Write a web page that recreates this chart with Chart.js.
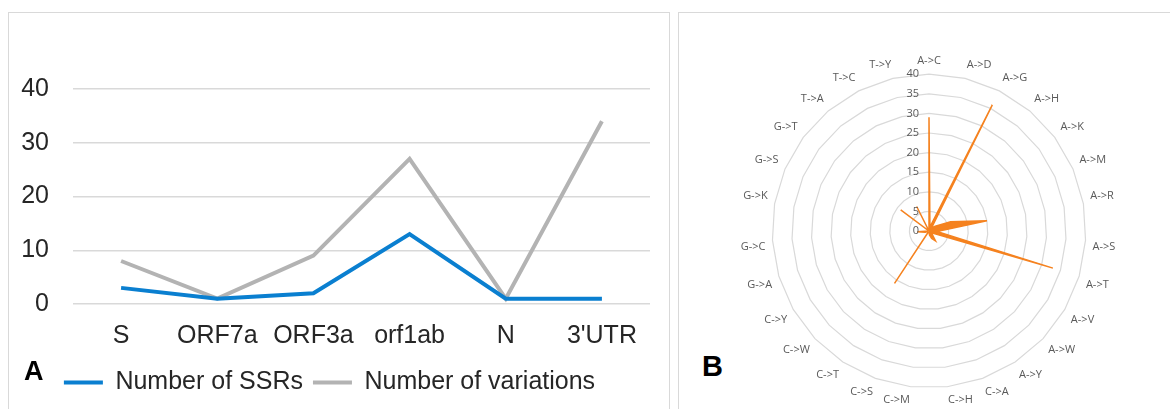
<!DOCTYPE html>
<html>
<head>
<meta charset="utf-8">
<script src="https://cdn.jsdelivr.net/npm/chart.js@4.4.1/dist/chart.umd.min.js"></script>
<style>
  body { margin: 0; background: #fff; width: 1170px; height: 409px; overflow: hidden; position: relative; }
  .panel { position: absolute; border: 1px solid #d9d9d9; background: #fff; }
  #panelA { left: 8px; top: 12px; width: 660px; height: 420px; }
  #panelB { left: 678px; top: 12px; width: 520px; height: 420px; }
  .tag { position: absolute; font-family: "Liberation Sans", Arial, sans-serif; font-weight: bold; color: #000; }
  #wrapA { position: absolute; left: 9px; top: 13px; width: 660px; height: 396px; }
  #wrapB { position: absolute; left: 734px; top: 53px; width: 390px; height: 355px; }
</style>
</head>
<body>
<div class="panel" id="panelA"></div>
<div class="panel" id="panelB"></div>
<div id="wrapA"><canvas id="lineChart"></canvas></div>
<div id="wrapB"><canvas id="radarChart"></canvas></div>
<div class="tag" style="left:24px; top:356px; font-size:27px;">A</div>
<div class="tag" style="left:702px; top:350px; font-size:29px;">B</div>
<script>
// panel A
const genes = ["S", "ORF7a", "ORF3a", "orf1ab", "N", "3'UTR"];
const ssrCounts = [3, 1, 2, 13, 1, 1];
const variationCounts = [8, 1, 9, 27, 1, 34];
const lineTicks = [0, 10, 20, 30, 40];

// panel B
const substitutions = ["A->C", "A->D", "A->G", "A->H", "A->K", "A->M", "A->R", "A->S", "A->T",
  "A->V", "A->W", "A->Y", "C->A", "C->H", "C->M", "C->S", "C->T", "C->W", "C->Y",
  "G->A", "G->C", "G->K", "G->S", "G->T", "T->A", "T->C", "T->Y"];
const substitutionCounts = [29, 1, 36, 1, 2, 6, 15, 2, 33, 1, 1, 3, 2, 1, 0, 0, 16, 0, 0,
  1, 3, 0, 0, 9, 0, 7, 0];
const radarTicks = [0, 5, 10, 15, 20, 25, 30, 35, 40];

const textDark = '#262626';
const gridGray = '#d9d9d9';

new Chart(document.getElementById('lineChart'), {
  type: 'line',
  data: {
    labels: genes,
    datasets: [{
      label: 'Number of SSRs',
      data: ssrCounts,
      borderColor: '#0a7fd0',
      backgroundColor: '#0a7fd0',
      borderWidth: 4,
      pointRadius: 0,
      tension: 0
    }, {
      label: 'Number of variations',
      data: variationCounts,
      borderColor: '#b3b3b3',
      backgroundColor: '#b3b3b3',
      borderWidth: 4,
      pointRadius: 0,
      tension: 0
    }]
  },
  options: {
    responsive: true,
    maintainAspectRatio: false,
    animation: false,
    layout: { padding: { top: 76, right: 19, bottom: 4, left: 0 } },
    plugins: {
      tooltip: { enabled: false },
      legend: {
        position: 'bottom',
        labels: {
          font: { family: 'Liberation Sans', size: 25 },
          color: textDark,
          usePointStyle: true,
          pointStyle: 'line',
          pointStyleWidth: 39,
          padding: 10
        }
      }
    },
    scales: {
      x: {
        offset: true,
        grid: { display: false },
        border: { display: false },
        ticks: { font: { family: 'Liberation Sans', size: 25 }, color: textDark, padding: 9, maxRotation: 0 },
        afterFit: (s) => { s.height = 56; }
      },
      y: {
        min: 0, max: 40,
        afterBuildTicks: (s) => { s.ticks = lineTicks.map(v => ({ value: v })); },
        grid: { color: gridGray, lineWidth: 1.5, drawTicks: false },
        border: { display: false },
        ticks: { font: { family: 'Liberation Sans', size: 25 }, color: textDark, padding: 24 },
        afterFit: (s) => { s.width = 64; }
      }
    }
  }
});

// radar tick labels sit left of the vertical axis, right aligned
const radarTickLabels = {
  id: 'radarTickLabels',
  afterDatasetsDraw(chart) {
    const r = chart.scales.r;
    const ctx = chart.ctx;
    ctx.save();
    ctx.font = '11px "Open Sans"';
    ctx.fillStyle = '#595959';
    ctx.textAlign = 'right';
    ctx.textBaseline = 'middle';
    radarTicks.forEach(v => {
      ctx.fillText(String(v), r.xCenter - 10, r.yCenter - r.getDistanceFromCenterForValue(v));
    });
    ctx.restore();
  }
};

new Chart(document.getElementById('radarChart'), {
  type: 'radar',
  data: {
    labels: substitutions,
    datasets: [{
      label: 'count',
      data: substitutionCounts,
      fill: true,
      backgroundColor: '#f5821f',
      borderColor: '#f5821f',
      borderWidth: 1.5,
      pointRadius: 0
    }]
  },
  plugins: [radarTickLabels],
  options: {
    responsive: true,
    maintainAspectRatio: false,
    animation: false,
    plugins: { legend: { display: false }, tooltip: { enabled: false } },
    scales: {
      r: {
        min: 0, max: 40,
        afterBuildTicks: (s) => { s.ticks = radarTicks.map(v => ({ value: v })); },
        angleLines: { display: false },
        grid: { color: gridGray, lineWidth: 1.2 },
        ticks: { display: false },
        pointLabels: { font: { family: 'Open Sans', size: 11 }, color: '#595959', padding: 7 }
      }
    }
  }
});
</script>
</body>
</html>
